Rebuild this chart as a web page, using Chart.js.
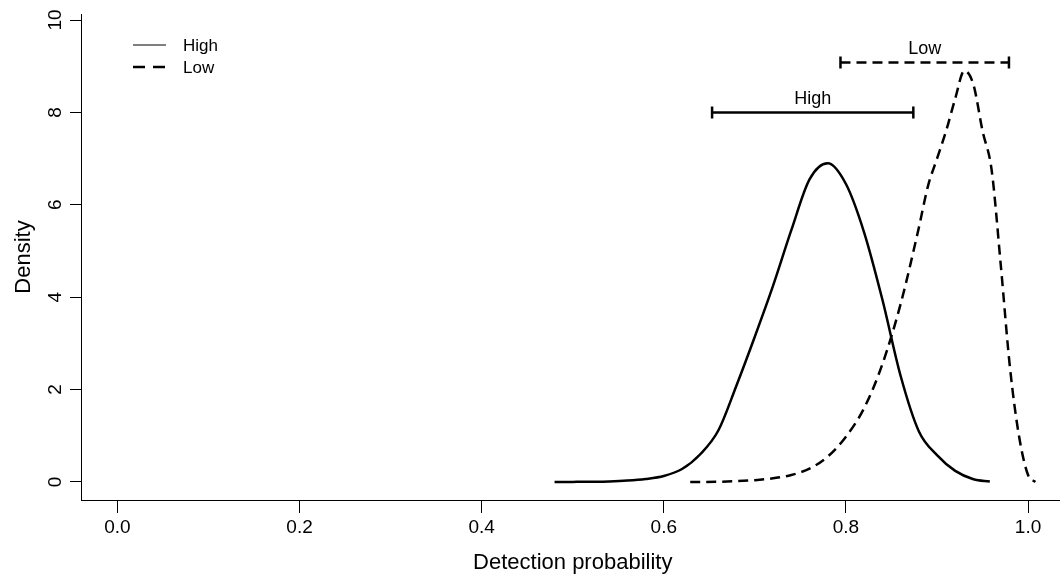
<!DOCTYPE html>
<html>
<head>
<meta charset="utf-8">
<title>Detection probability</title>
<script src="https://cdn.jsdelivr.net/npm/chart.js@4.4.0/dist/chart.umd.min.js"></script>
<style>
  html, body { margin: 0; padding: 0; background: #fff; overflow: hidden; }
  #chart { display: block; }
</style>
</head>
<body>
<canvas id="chart" width="1073" height="582"></canvas>
<script>
// density curves
const highX = [0.48, 0.50, 0.52, 0.54, 0.56, 0.58, 0.60, 0.62, 0.64, 0.66, 0.68, 0.70, 0.72, 0.74, 0.76, 0.78, 0.80, 0.82, 0.84, 0.86, 0.88, 0.90, 0.92, 0.94, 0.958];
const highY = [0, 0.002, 0.005, 0.012, 0.03, 0.065, 0.13, 0.28, 0.6, 1.12, 2.1, 3.15, 4.25, 5.45, 6.55, 6.90, 6.45, 5.4, 3.95, 2.3, 1.1, 0.58, 0.24, 0.06, 0.01];
const lowX = [0.629, 0.66, 0.70, 0.72, 0.74, 0.76, 0.78, 0.80, 0.82, 0.84, 0.86, 0.88, 0.89, 0.90, 0.91, 0.92, 0.93, 0.94, 0.95, 0.96, 0.97, 0.98, 0.99, 1.00, 1.008];
const lowY = [0, 0.005, 0.04, 0.08, 0.15, 0.29, 0.55, 0.98, 1.6, 2.55, 3.85, 5.5, 6.4, 7.0, 7.6, 8.3, 8.9, 8.6, 7.6, 6.75, 4.7, 2.5, 1.0, 0.15, 0];

// interval bars drawn above the curves
const highInterval = [0.653, 0.874];
const lowInterval = [0.794, 0.979];
const intervalLevels = [8.0, 9.08];

const seriesNames = ['High', 'Low'];
const xTicks = [0, 0.2, 0.4, 0.6, 0.8, 1.0];
const yTicks = [0, 2, 4, 6, 8, 10];

const FONT = '"Liberation Sans", Arial, sans-serif';
const DASH = [10, 6];

function toPoints(xs, ys) {
    return xs.map((x, i) => ({ x: x, y: ys[i] }));
}

function intervalPoints(range, level) {
    return range.map(x => ({ x: x, y: level }));
}

// legend in the top-left of the plot, like base R's legend()
const plotLegend = {
    id: 'plotLegend',
    afterDraw(chart) {
        const ctx = chart.ctx;
        const area = chart.chartArea;
        const x0 = area.left + 52;
        const rows = [
            { name: seriesNames[0], dash: [], width: 1.2, y: area.top + 31 },
            { name: seriesNames[1], dash: [12, 8], width: 2.5, y: area.top + 53 }
        ];
        ctx.save();
        ctx.strokeStyle = '#000';
        ctx.fillStyle = '#000';
        ctx.font = '17px ' + FONT;
        ctx.textBaseline = 'middle';
        rows.forEach(r => {
            ctx.lineWidth = r.width;
            ctx.setLineDash(r.dash);
            ctx.beginPath();
            ctx.moveTo(x0, r.y);
            ctx.lineTo(x0 + 33, r.y);
            ctx.stroke();
            ctx.fillText(r.name, x0 + 50, r.y + 1);
        });
        ctx.restore();
    }
};

// names above the interval bars
const intervalLabels = {
    id: 'intervalLabels',
    afterDatasetsDraw(chart) {
        const ctx = chart.ctx;
        const xs = chart.scales.x;
        const ys = chart.scales.y;
        const bars = [highInterval, lowInterval];
        ctx.save();
        ctx.fillStyle = '#000';
        ctx.font = '18px ' + FONT;
        ctx.textAlign = 'center';
        ctx.textBaseline = 'middle';
        bars.forEach((range, i) => {
            const cx = xs.getPixelForValue((range[0] + range[1]) / 2);
            const cy = ys.getPixelForValue(intervalLevels[i]);
            ctx.fillText(seriesNames[i], cx, cy - 13);
        });
        ctx.restore();
    }
};

const curveStyle = {
    borderColor: '#000',
    backgroundColor: '#000',
    borderWidth: 2.5,
    pointRadius: 0,
    fill: false,
    cubicInterpolationMode: 'monotone'
};

const barStyle = {
    borderColor: '#000',
    backgroundColor: '#000',
    borderWidth: 2.5,
    pointStyle: 'line',
    pointRotation: 90,
    pointRadius: 6,
    pointBorderWidth: 2.5,
    pointBorderColor: '#000',
    fill: false
};

const ctx = document.getElementById('chart').getContext('2d');
window.densityChart = new Chart(ctx, {
    type: 'line',
    data: {
        datasets: [
            Object.assign({ label: seriesNames[0], data: toPoints(highX, highY) }, curveStyle),
            Object.assign({ label: seriesNames[1], data: toPoints(lowX, lowY), borderDash: DASH }, curveStyle),
            Object.assign({ label: seriesNames[0] + ' interval', data: intervalPoints(highInterval, intervalLevels[0]) }, barStyle),
            Object.assign({ label: seriesNames[1] + ' interval', data: intervalPoints(lowInterval, intervalLevels[1]), borderDash: DASH }, barStyle)
        ]
    },
    options: {
        responsive: false,
        animation: false,
        devicePixelRatio: 1,
        layout: { padding: { left: 0, right: 0, top: 14, bottom: 0 } },
        plugins: {
            legend: { display: false },
            tooltip: { enabled: false }
        },
        scales: {
            x: {
                type: 'linear',
                min: -0.04,
                max: 1.04,
                afterBuildTicks: scale => { scale.ticks = xTicks.map(v => ({ value: v })); },
                afterFit: scale => {
                    scale.height = 82;
                    scale.paddingLeft = 0;
                    scale.paddingRight = 0;
                },
                ticks: {
                    autoSkip: false,
                    maxRotation: 0,
                    padding: 3,
                    color: '#000',
                    font: { family: FONT, size: 19 },
                    callback: v => Number(v).toFixed(1)
                },
                grid: { drawOnChartArea: false, drawTicks: true, tickLength: 13, tickColor: '#000', tickWidth: 1 },
                border: { display: true, color: '#000', width: 1 },
                title: {
                    display: true,
                    text: 'Detection probability',
                    color: '#000',
                    font: { family: FONT, size: 22 },
                    padding: { top: 0, bottom: 6 }
                }
            },
            y: {
                type: 'linear',
                min: -0.39,
                max: 10.13,
                afterBuildTicks: scale => { scale.ticks = yTicks.map(v => ({ value: v })); },
                afterFit: scale => {
                    scale.width = 81;
                    scale.paddingTop = 0;
                    scale.paddingBottom = 0;
                },
                ticks: {
                    autoSkip: false,
                    minRotation: 90,
                    maxRotation: 90,
                    crossAlign: 'center',
                    padding: 4,
                    color: '#000',
                    font: { family: FONT, size: 19 },
                    callback: v => String(v)
                },
                grid: { drawOnChartArea: false, drawTicks: true, tickLength: 11, tickColor: '#000', tickWidth: 1 },
                border: { display: true, color: '#000', width: 1 },
                title: {
                    display: true,
                    text: 'Density',
                    color: '#000',
                    font: { family: FONT, size: 22 },
                    padding: { top: 11, bottom: 0 }
                }
            }
        }
    },
    plugins: [intervalLabels, plotLegend]
});
</script>
</body>
</html>
